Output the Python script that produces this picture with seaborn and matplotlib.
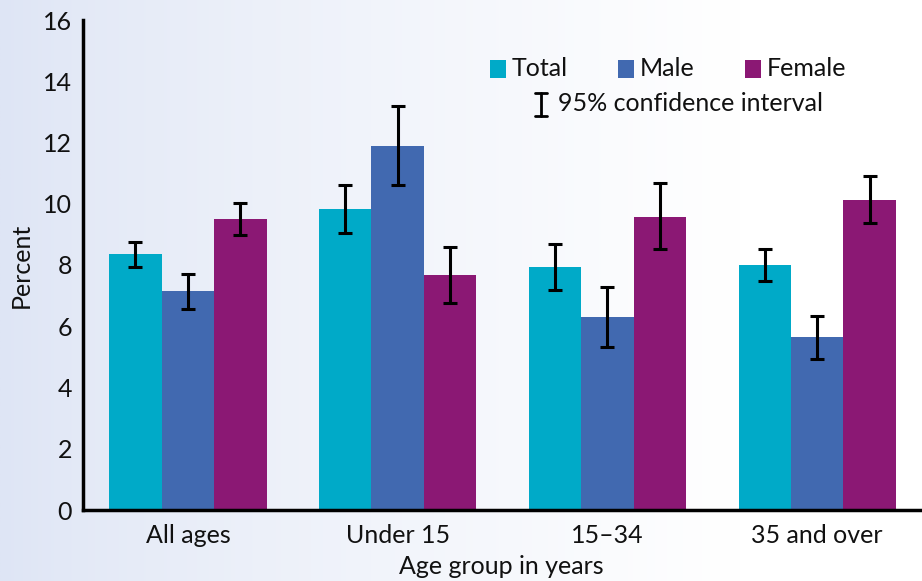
import numpy as np
import pandas as pd
import matplotlib
matplotlib.use("Agg")
import matplotlib.pyplot as plt
import seaborn as sns
from matplotlib.patches import Rectangle
from matplotlib.lines import Line2D

categories = ["All ages", "Under 15", "15\u201334", "35 and over"]
series = ["Total", "Male", "Female"]
total = [8.36, 9.83, 7.93, 8.00]
male = [7.15, 11.89, 6.30, 5.65]
female = [9.50, 7.67, 9.57, 10.12]
total_lo = [7.95, 9.06, 7.20, 7.48]
total_hi = [8.75, 10.62, 8.67, 8.51]
male_lo = [6.56, 10.60, 5.31, 4.94]
male_hi = [7.72, 13.18, 7.28, 6.33]
female_lo = [8.99, 6.75, 8.52, 9.38]
female_hi = [10.03, 8.59, 10.67, 10.90]
colors = ["#00AAC8", "#4169B0", "#8B1874"]
yticks = [0, 2, 4, 6, 8, 10, 12, 14, 16]

values = {"Total": total, "Male": male, "Female": female}
lows = {"Total": total_lo, "Male": male_lo, "Female": female_lo}
highs = {"Total": total_hi, "Male": male_hi, "Female": female_hi}

rows = []
for s in series:
    for c, v, lo, hi in zip(categories, values[s], lows[s], highs[s]):
        rows.append({"Age": c, "Sex": s, "Percent": v, "lo": lo, "hi": hi})
df = pd.DataFrame(rows)

sns.set_theme(style="white")
plt.rcParams['font.family'] = ['Lato', 'DejaVu Sans']
FS = 18

fig = plt.figure(figsize=(9.22, 5.81), dpi=100)

# background gradient
bg = fig.add_axes([0, 0, 1, 1], zorder=-10)
w = 400
grad = np.linspace(0, 1, w)
left = np.array([222, 229, 245]) / 255.0
right = np.array([1.0, 1.0, 1.0])
t = np.clip(grad / 0.8, 0, 1) ** 0.8
img = left[None, :] * (1 - t[:, None]) + right[None, :] * t[:, None]
img = np.repeat(img[None, :, :], 10, axis=0)
bg.imshow(img, aspect='auto', extent=[0, 1, 0, 1])
bg.set_axis_off()

ax = fig.add_axes([83 / 922, 1 - 510 / 581, (920 - 83) / 922, (510 - 20) / 581])
ax.patch.set_alpha(0)

sns.barplot(data=df, x="Age", y="Percent", hue="Sex", order=categories,
            hue_order=series, palette=colors, width=0.75, errorbar=None,
            saturation=1, linewidth=0, ax=ax, legend=False)

for cont, s in zip(ax.containers, series):
    xs = [b.get_x() + b.get_width() / 2 for b in cont]
    v = np.array(values[s])
    lo = np.array(lows[s])
    hi = np.array(highs[s])
    ax.errorbar(xs, v, yerr=[v - lo, hi - v], fmt='none', ecolor='black',
                elinewidth=2.2, capsize=5, capthick=2.2, zorder=5)

ax.set_ylim(0, 16)
ax.set_xlim(-0.5, 3.49)
ax.set_yticks(yticks)
ax.set_yticklabels([str(t) for t in yticks], fontsize=FS, color='#111111')
ax.tick_params(axis='y', direction='in', length=7, width=2, color='black', pad=8)
ax.tick_params(axis='x', length=0, labelsize=FS, labelcolor='#111111', pad=10)
for sp in ['top', 'right']:
    ax.spines[sp].set_visible(False)
for sp in ['left', 'bottom']:
    ax.spines[sp].set_linewidth(2.5)
    ax.spines[sp].set_color('black')
ax.set_xlabel("Age group in years", fontsize=FS, color='#111111', labelpad=6)
ax.set_ylabel("Percent", fontsize=FS, color='#111111', labelpad=7)

# legend drawn manually in figure pixels
def fx(px):
    return px / 922
def fy(py):
    return 1 - py / 581

legend_items = [("Total", 490), ("Male", 618), ("Female", 745)]
for (name, px), col in zip(legend_items, colors):
    fig.patches.append(Rectangle((fx(px), fy(78)), 16 / 922, 18 / 581,
                                 transform=fig.transFigure, facecolor=col,
                                 edgecolor='none'))
    fig.text(fx(px + 22), fy(69), name, fontsize=FS, va='center', ha='left',
             color='#111111')

# CI key
cx = 541
fig.add_artist(Line2D([fx(cx), fx(cx)], [fy(93), fy(116)], color='black', lw=2,
                      transform=fig.transFigure))
for yy in (93, 116):
    fig.add_artist(Line2D([fx(cx - 6), fx(cx + 6)], [fy(yy), fy(yy)], color='black',
                          lw=2, transform=fig.transFigure))
fig.text(fx(558), fy(104), "95% confidence interval", fontsize=FS, va='center',
         ha='left', color='#111111')

fig.savefig("out.png", dpi=100)
